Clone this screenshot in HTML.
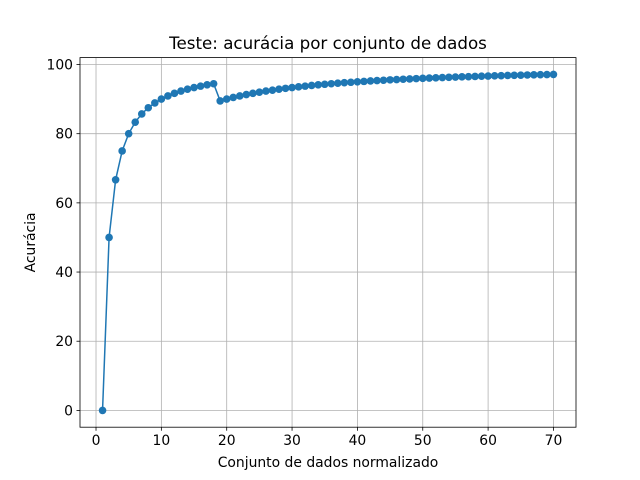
<!DOCTYPE html>
<html><head><meta charset="utf-8"><style>
html,body{margin:0;padding:0;background:#fff;}
svg{display:block;font-family:"DejaVu Sans","Liberation Sans",sans-serif;}
</style></head><body>
<svg id="chart" width="640" height="480" xmlns="http://www.w3.org/2000/svg">
<rect width="640" height="480" fill="#fff"/>
<g id="grid"></g>
<g id="series"></g>
<rect x="80" y="57.6" width="496" height="369.6" fill="none" stroke="#000" stroke-width="0.8"/>
<g id="ticks"></g>
<text x="328" y="49" text-anchor="middle" font-size="16.7">Teste: acurácia por conjunto de dados</text>
<text x="328" y="467" text-anchor="middle" font-size="13.9">Conjunto de dados normalizado</text>
<text transform="translate(35,242.4) rotate(-90)" text-anchor="middle" font-size="13.9">Acurácia</text>
</svg>
<script>
const xs = [];
for (let i = 1; i <= 70; i++) xs.push(i);
const accuracy = [0,50,66.67,75,80,83.33,85.71,87.5,88.89,90,90.91,91.67,92.31,92.86,93.33,93.75,94.12,94.44,
89.47,90,90.48,90.91,91.30,91.67,92,92.31,92.59,92.86,93.10,93.33,93.55,93.75,93.94,94.12,94.29,94.44,94.59,94.74,94.87,95,
95.12,95.24,95.35,95.45,95.56,95.65,95.74,95.83,95.92,96,96.08,96.15,96.23,96.30,96.36,96.43,96.49,96.55,96.61,96.67,
96.72,96.77,96.83,96.88,96.92,96.97,97.01,97.06,97.10,97.14];
const xTicks = [0,10,20,30,40,50,60,70];
const yTicks = [0,20,40,60,80,100];

const NS = "http://www.w3.org/2000/svg";
const L=80,R=576,T=57.6,B=427.2;
const xmin=Math.min(...xs), xmax=Math.max(...xs), xm=(xmax-xmin)*0.05;
const ymin=Math.min(...accuracy), ymax=Math.max(...accuracy), ym=(ymax-ymin)*0.05;
const X=v=>L+(v-(xmin-xm))/((xmax+xm)-(xmin-xm))*(R-L);
const Y=v=>B-(v-(ymin-ym))/((ymax+ym)-(ymin-ym))*(B-T);
function mk(tag,attrs,parent){const e=document.createElementNS(NS,tag);for(const k in attrs)e.setAttribute(k,attrs[k]);parent.appendChild(e);return e;}
const grid=document.getElementById('grid'), ticks=document.getElementById('ticks'), series=document.getElementById('series');
xTicks.forEach(t=>{
  const x=X(t);
  const g=mk('line',{x1:x,x2:x,y1:T,y2:B,stroke:'#b0b0b0','stroke-width':0.8},grid);
  
  
  const tk=mk('line',{x1:x,x2:x,y1:B,y2:B+3.5,stroke:'#000','stroke-width':0.8},ticks);
  
  
  const tx=mk('text',{x:x,y:B+18,'text-anchor':'middle','font-size':13.9},ticks);
  tx.textContent=t;
  
  
});
yTicks.forEach(t=>{
  const y=Y(t);
  const g=mk('line',{x1:L,x2:R,y1:y,y2:y,stroke:'#b0b0b0','stroke-width':0.8},grid);
  
  
  const tk=mk('line',{x1:L-3.5,x2:L,y1:y,y2:y,stroke:'#000','stroke-width':0.8},ticks);
  
  
  const tx=mk('text',{x:L-7,y:y+5,'text-anchor':'end','font-size':13.9},ticks);
  tx.textContent=t;
  
  
});
const pts=xs.map((x,i)=>X(x).toFixed(2)+','+Y(accuracy[i]).toFixed(2)).join(' ');
const pl=mk('polyline',{points:pts,fill:'none',stroke:'#1f77b4','stroke-width':1.5},series);


xs.forEach((x,i)=>{
  const c=mk('circle',{cx:X(x),cy:Y(accuracy[i]),r:3.8,fill:'#1f77b4'},series);
  
  
});
</script>
</body></html>
